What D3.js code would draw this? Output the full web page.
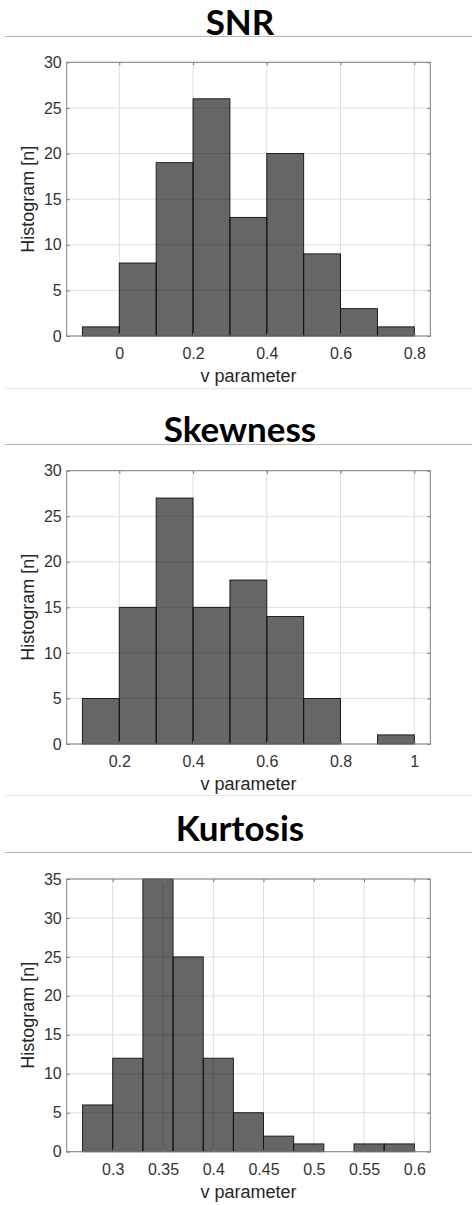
<!DOCTYPE html>
<html>
<head>
<meta charset="utf-8">
<script src="https://cdn.jsdelivr.net/npm/d3@7"></script>
<style>
  body { margin: 0; background: #fff; }
  svg { display: block; }
</style>
</head>
<body>
<div id="chart"></div>
<script>
// data: bin edges, counts and tick labels for each histogram
const snrEdges = [-0.1, 0, 0.1, 0.2, 0.3, 0.4, 0.5, 0.6, 0.7, 0.8];
const snrCounts = [1, 8, 19, 26, 13, 20, 9, 3, 1];
const snrTicks = [0, 0.2, 0.4, 0.6, 0.8];

const skewEdges = [0.1, 0.2, 0.3, 0.4, 0.5, 0.6, 0.7, 0.8, 0.9, 1.0];
const skewCounts = [5, 15, 27, 15, 18, 14, 5, 0, 1];
const skewTicks = [0.2, 0.4, 0.6, 0.8, 1];

const kurtEdges = [0.27, 0.30, 0.33, 0.36, 0.39, 0.42, 0.45, 0.48, 0.51, 0.54, 0.57, 0.60];
const kurtCounts = [6, 12, 35, 25, 12, 5, 2, 1, 0, 1, 1];
const kurtTicks = [0.3, 0.35, 0.4, 0.45, 0.5, 0.55, 0.6];

const yTicks30 = [0, 5, 10, 15, 20, 25, 30];
const yTicks35 = [0, 5, 10, 15, 20, 25, 30, 35];

const titles = ["SNR", "Skewness", "Kurtosis"];
const xLabel = "v parameter";
const yLabel = "Histogram [n]";

//set dimensions
const width = 472,
    height = 1205,
    left = 66.7,
    right = 430.3;

// panel layout (positions only)
const panels = [
    { title: titles[0], edges: snrEdges, counts: snrCounts, xTicks: snrTicks, yTicks: yTicks30,
      xlim: [-0.1426, 0.8434], ymax: 30, titleY: 35, ruleY: 36.5, top: 62.3, bottom: 336, endRule: 388.5 },
    { title: titles[1], edges: skewEdges, counts: skewCounts, xTicks: skewTicks, yTicks: yTicks30,
      xlim: [0.0574, 1.0434], ymax: 30, titleY: 442, ruleY: 444.5, top: 470.7, bottom: 744, endRule: 795.5 },
    { title: titles[2], edges: kurtEdges, counts: kurtCounts, xTicks: kurtTicks, yTicks: yTicks35,
      xlim: [0.2542, 0.6159], ymax: 35, titleY: 841, ruleY: 852.5, top: 879, bottom: 1151.7, endRule: null }
];

const svg = d3.select("#chart")
    .append("svg")
    .attr("width", width)
    .attr("height", height);

const fmt = d => String(+d.toFixed(2));

panels.forEach(p => {
    const g = svg.append("g");

    // title + rules
    g.append("text")
        .attr("x", 240)
        .attr("y", p.titleY)
        .attr("text-anchor", "middle")
        .attr("font-family", "Lato, 'Open Sans', sans-serif")
        .attr("font-weight", "bold")
        .attr("font-size", 35)
        .attr("fill", "#000")
        .text(p.title);
    g.append("line")
        .attr("x1", 5).attr("x2", width)
        .attr("y1", p.ruleY).attr("y2", p.ruleY)
        .attr("stroke", "#b4b4b4");
    if (p.endRule) {
        g.append("line")
            .attr("x1", 5).attr("x2", width)
            .attr("y1", p.endRule).attr("y2", p.endRule)
            .attr("stroke", "#e6e6e6");
    }

    // scales
    const x = d3.scaleLinear().domain(p.xlim).range([left, right]);
    const y = d3.scaleLinear().domain([0, p.ymax]).range([p.bottom, p.top]);

    // grid
    g.append("g")
        .selectAll("line")
        .data(p.xTicks)
        .join("line")
        .attr("x1", d => x(d)).attr("x2", d => x(d))
        .attr("y1", p.top).attr("y2", p.bottom)
        .attr("stroke", "#dfdfdf");
    g.append("g")
        .selectAll("line")
        .data(p.yTicks)
        .join("line")
        .attr("x1", left).attr("x2", right)
        .attr("y1", d => y(d)).attr("y2", d => y(d))
        .attr("stroke", "#dfdfdf");

    // bars
    const bins = p.counts.map((c, i) => ({ x0: p.edges[i], x1: p.edges[i + 1], n: c }))
        .filter(d => d.n > 0);
    g.append("g")
        .selectAll("rect")
        .data(bins)
        .join("rect")
        .attr("x", d => x(d.x0))
        .attr("y", d => y(d.n))
        .attr("width", d => x(d.x1) - x(d.x0))
        .attr("height", d => y(0) - y(d.n))
        .attr("fill", "#000")
        .attr("fill-opacity", 0.6)
        .attr("stroke", "#111")
        .attr("stroke-width", 0.9);

    // axes (ticks inside, box on all sides)
    const axisStyle = sel => {
        sel.select(".domain").remove();
        sel.selectAll(".tick line").attr("stroke", "#777");
        sel.selectAll(".tick text")
            .attr("font-family", "'Liberation Sans', Arial, sans-serif")
            .attr("font-size", 16)
            .attr("fill", "#333");
    };
    g.append("g")
        .attr("transform", `translate(0, ${p.bottom})`)
        .call(d3.axisBottom(x).tickValues(p.xTicks).tickFormat(fmt).tickSizeInner(-3).tickPadding(12))
        .call(axisStyle);
    g.append("g")
        .attr("transform", `translate(0, ${p.top})`)
        .call(d3.axisTop(x).tickValues(p.xTicks).tickFormat("").tickSizeInner(-3))
        .call(axisStyle);
    g.append("g")
        .attr("transform", `translate(${left}, 0)`)
        .call(d3.axisLeft(y).tickValues(p.yTicks).tickFormat(d3.format("d")).tickSizeInner(-3).tickPadding(5))
        .call(axisStyle);
    g.append("g")
        .attr("transform", `translate(${right}, 0)`)
        .call(d3.axisRight(y).tickValues(p.yTicks).tickFormat("").tickSizeInner(-3))
        .call(axisStyle);

    g.append("rect")
        .attr("x", left).attr("y", p.top)
        .attr("width", right - left).attr("height", p.bottom - p.top)
        .attr("fill", "none")
        .attr("stroke", "#808080");

    // axis labels
    g.append("text")
        .attr("x", (left + right) / 2)
        .attr("y", p.bottom + 46)
        .attr("text-anchor", "middle")
        .attr("font-family", "'Liberation Sans', Arial, sans-serif")
        .attr("font-size", 18)
        .attr("fill", "#262626")
        .text(xLabel);
    g.append("text")
        .attr("transform", `translate(34, ${(p.top + p.bottom) / 2}) rotate(-90)`)
        .attr("text-anchor", "middle")
        .attr("font-family", "'Liberation Sans', Arial, sans-serif")
        .attr("font-size", 18)
        .attr("fill", "#262626")
        .text(yLabel);
});
</script>
</body>
</html>
